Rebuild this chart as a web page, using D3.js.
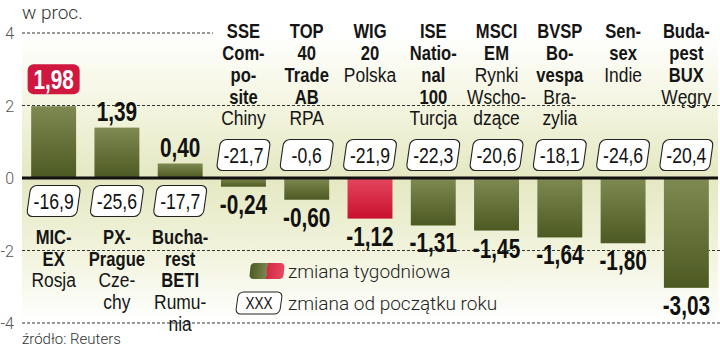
<!DOCTYPE html>
<meta charset='utf-8'>
<body style='margin:0;background:#fff'>
<script src='https://d3js.org/d3.v7.min.js'></script>
<script>
  const W = 720, H = 348;

  // data
  const keys = ['MICEX', 'PX', 'BETI', 'SSE', 'TOP40', 'WIG20', 'ISE100', 'MSCIEM', 'BVSP', 'SENSEX', 'BUX'];
  const boldLines = [
    ['MIC-', 'EX'], ['PX-', 'Prague'], ['Bucha-', 'rest', 'BETI'],
    ['SSE', 'Com-', 'po-', 'site'], ['TOP', '40', 'Trade', 'AB'], ['WIG', '20'],
    ['ISE', 'Natio-', 'nal', '100'], ['MSCI', 'EM'], ['BVSP', 'Bo-', 'vespa'],
    ['Sen-', 'sex'], ['Buda-', 'pest', 'BUX']
  ];
  const countryLines = [
    ['Rosja'], ['Cze-', 'chy'], ['Rumu-', 'nia'],
    ['Chiny'], ['RPA'], ['Polska'],
    ['Turcja'], ['Rynki', 'Wscho-', 'dzące'], ['Bra-', 'zylia'],
    ['Indie'], ['Węgry']
  ];
  const weekly = [1.98, 1.39, 0.40, -0.24, -0.60, -1.12, -1.31, -1.45, -1.64, -1.80, -3.03];
  const ytd = [-16.9, -25.6, -17.7, -21.7, -0.6, -21.9, -22.3, -20.6, -18.1, -24.6, -20.4];
  const yTicks = [4, 2, 0, -2, -4];
  const polandKey = 'WIG20';

  const sans = "'Liberation Sans', Arial, sans-serif";
  const light = "Roboto, sans-serif";
  const fmt2 = v => d3.format('.2f')(v).replace('.', ',').replace('−', '-');
  const fmt1 = v => d3.format('.1f')(v).replace('.', ',').replace('−', '-');

  const x = d3.scaleBand().domain(keys).range([22, 718]).paddingInner(0.29).paddingOuter(0.145);
  const y = d3.scaleLinear().domain([-4, 4]).range([323, 33]);
  const cx = k => x(k) + x.bandwidth() / 2;

  const svg = d3.select('body').append('svg')
    .attr('width', W).attr('height', H)
    .style('font-family', sans);

  // condensed text: squeeze horizontally around its anchor
  function narrowText(px, py, sx) {
    return svg.append('g')
      .attr('transform', `translate(${px},${py}) scale(${sx},1)`)
      .append('text')
      .attr('text-anchor', 'middle');
  }

  const defs = svg.append('defs');
  const bg = defs.append('linearGradient').attr('id', 'bg')
    .attr('x1', 0).attr('x2', 0).attr('y1', 0).attr('y2', 1);
  [[0, '#ffffff'], [0.2, '#f6f7e6'], [0.5, '#e5e8c2'], [0.75, '#f1f3dc'], [1, '#ffffff']]
    .forEach(([o, c]) => bg.append('stop').attr('offset', o).attr('stop-color', c));

  const olive = defs.append('linearGradient').attr('id', 'olive')
    .attr('x1', 0).attr('x2', 0).attr('y1', 0).attr('y2', 1);
  olive.append('stop').attr('offset', 0).attr('stop-color', '#7f8a52');
  olive.append('stop').attr('offset', 1).attr('stop-color', '#4d5922');

  const red = defs.append('linearGradient').attr('id', 'red')
    .attr('x1', 0).attr('x2', 0).attr('y1', 0).attr('y2', 1);
  red.append('stop').attr('offset', 0).attr('stop-color', '#e5465f');
  red.append('stop').attr('offset', 1).attr('stop-color', '#c8102e');

  const swatch = defs.append('linearGradient').attr('id', 'swatch')
    .attr('x1', 0).attr('x2', 1).attr('y1', 0).attr('y2', 0);
  [[0, '#4f5b25'], [0.5, '#7a8550'], [0.5, '#d42a45'], [1, '#e8485f']]
    .forEach(([o, c]) => swatch.append('stop').attr('offset', o).attr('stop-color', c));

  // background band
  svg.append('rect')
    .attr('x', 22).attr('y', y(4))
    .attr('width', 696).attr('height', y(-4) - y(4))
    .attr('fill', 'url(#bg)');

  // gridlines
  svg.append('g').selectAll('line')
    .data(yTicks.filter(d => d !== 0))
    .join('line')
    .attr('x1', 22)
    .attr('x2', d => d === 4 ? 213 : 720)
    .attr('y1', d => y(d)).attr('y2', d => y(d))
    .attr('stroke', '#333').attr('stroke-width', 1)
    .attr('stroke-dasharray', '3,2');

  // y tick labels
  svg.append('g').selectAll('text')
    .data(yTicks)
    .join('text')
    .attr('x', 14).attr('y', d => y(d) + 6)
    .attr('text-anchor', 'end')
    .attr('font-family', light)
    .attr('font-size', 16).attr('font-weight', 300)
    .attr('fill', '#555')
    .text(d => d < 0 ? '-' + Math.abs(d) : d);

  svg.append('text')
    .attr('x', 22).attr('y', 19)
    .attr('font-family', light)
    .attr('font-size', 19).attr('font-weight', 300)
    .attr('fill', '#333')
    .text('w proc.');

  // bars
  svg.append('g').selectAll('rect')
    .data(keys)
    .join('rect')
    .attr('x', k => x(k))
    .attr('width', x.bandwidth())
    .attr('y', (k, i) => y(Math.max(0, weekly[i])))
    .attr('height', (k, i) => Math.abs(y(weekly[i]) - y(0)))
    .attr('fill', k => k === polandKey ? 'url(#red)' : 'url(#olive)');

  svg.append('line')
    .attr('x1', 22).attr('x2', 718)
    .attr('y1', y(0)).attr('y2', y(0))
    .attr('stroke', '#111').attr('stroke-width', 3);

  // weekly value labels
  const maxIdx = weekly.indexOf(d3.max(weekly));
  keys.forEach((k, i) => {
    const v = weekly[i];
    if (i === maxIdx) {
      svg.append('rect')
        .attr('x', cx(k) - 26).attr('y', y(v) - 42)
        .attr('width', 52).attr('height', 30).attr('rx', 6)
        .attr('fill', '#d0173f');
      narrowText(cx(k), y(v) - 17.5, 0.77)
        .attr('font-size', 27).attr('font-weight', 'bold')
        .attr('fill', '#fff')
        .text(fmt2(v));
      return;
    }
    narrowText(cx(k), v >= 0 ? y(v) - 7 : y(v) + 27, 0.77)
      .attr('font-size', 27).attr('font-weight', 'bold')
      .attr('fill', '#111')
      .text(fmt2(v));
  });

  // category labels
  const lineH = 21.7;
  keys.forEach((k, i) => {
    const below = weekly[i] > 0;
    const y0 = below ? 244 : 38.5;
    const lines = boldLines[i].map(t => [t, true]).concat(countryLines[i].map(t => [t, false]));
    const t = narrowText(cx(k), 0, 0.83).attr('fill', '#151515');
    lines.forEach(([s, b], j) => {
      t.append('tspan')
        .attr('x', 0).attr('y', y0 + j * lineH)
        .attr('font-size', b ? 20 : 21)
        .attr('font-weight', b ? 'bold' : 'normal')
        .text(s);
    });
  });

  // year-to-date boxes
  function ytdBox(px, py, w, h, label) {
    const g = svg.append('g').attr('transform', `translate(${px},${py})`);
    g.append('rect')
      .attr('x', -w / 2).attr('y', -h / 2)
      .attr('width', w).attr('height', h).attr('rx', 6)
      .attr('transform', 'skewX(-8)')
      .attr('fill', '#fff').attr('stroke', '#222').attr('stroke-width', 1.1);
    narrowText(px, py + 8, 0.8)
      .attr('font-size', 22)
      .attr('fill', '#111')
      .text(label);
  }
  keys.forEach((k, i) => {
    const below = weekly[i] > 0;
    ytdBox(cx(k), below ? 201 : 155, 50, 31, fmt1(ytd[i]));
  });

  // legend
  svg.append('rect')
    .attr('x', 250).attr('y', 263).attr('width', 34).attr('height', 16).attr('rx', 4)
    .attr('transform', 'skewX(-6)').attr('transform-origin', '267px 271px')
    .attr('fill', 'url(#swatch)');
  svg.append('text')
    .attr('x', 288).attr('y', 278)
    .attr('font-family', light).attr('font-size', 19).attr('font-weight', 300)
    .attr('fill', '#222')
    .text('zmiana tygodniowa');

  const lg = svg.append('g').attr('transform', 'translate(259,303)');
  lg.append('rect')
    .attr('x', -22).attr('y', -11).attr('width', 44).attr('height', 22).attr('rx', 5)
    .attr('transform', 'skewX(-8)')
    .attr('fill', '#fff').attr('stroke', '#222').attr('stroke-width', 1);
  narrowText(259, 309, 0.8)
    .attr('font-size', 17).attr('fill', '#111')
    .text('XXX');
  svg.append('text')
    .attr('x', 288).attr('y', 310)
    .attr('font-family', light).attr('font-size', 19).attr('font-weight', 300)
    .attr('fill', '#222')
    .text('zmiana od początku roku');

  svg.append('text')
    .attr('x', 22).attr('y', 344)
    .attr('font-family', light).attr('font-size', 15).attr('font-weight', 300)
    .attr('fill', '#333')
    .text('źródło: Reuters');
</script>
